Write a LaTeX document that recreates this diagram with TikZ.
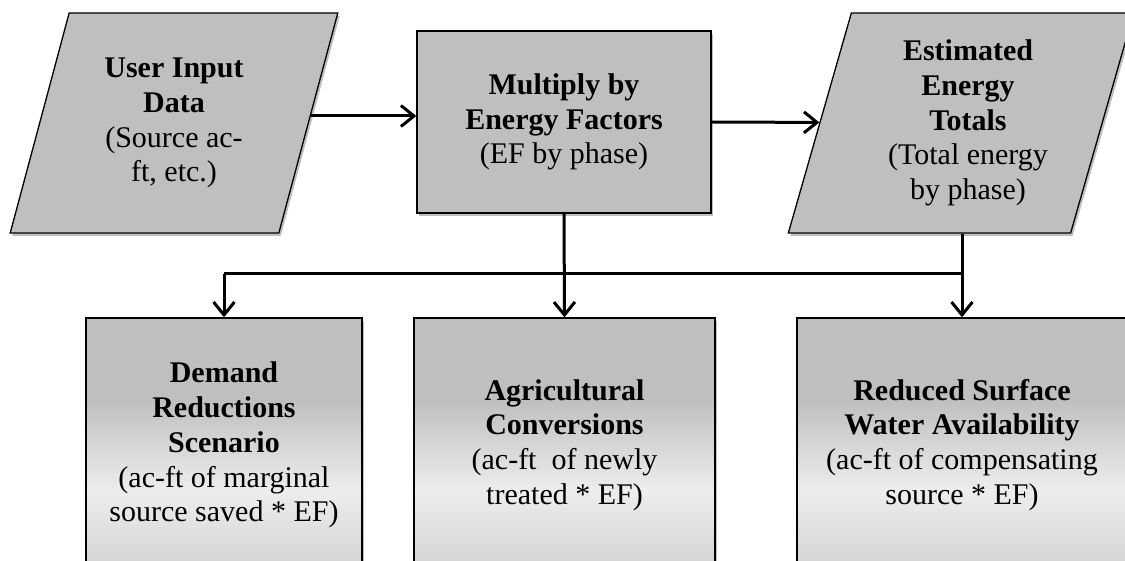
\documentclass[tikz,border=0pt]{standalone}
\usepackage{fontspec}
\setmainfont{Liberation Serif}
\usetikzlibrary{shapes.geometric,arrows.meta,shadows,calc}
\definecolor{boxgray}{HTML}{BFBFBF}
\definecolor{boxlight}{HTML}{EDEDED}
\definecolor{boxlow}{HTML}{D2D2D2}
\pgfdeclareverticalshading{resultshade}{100bp}{%
  color(0bp)=(boxlow); color(25bp)=(boxlow); color(41bp)=(boxlight);
  color(59bp)=(boxgray); color(75bp)=(boxgray); color(100bp)=(boxgray)}
\begin{document}
\begin{tikzpicture}[x=1pt,y=-1pt,
  font=\fontsize{30}{34.8}\selectfont,
  shapebase/.style={draw=black, line width=1.3pt, fill=boxgray, align=center, inner sep=0pt,
    drop shadow={shadow xshift=2pt, shadow yshift=-3pt, opacity=0.25, fill=black}},
  iobox/.style={shapebase, trapezium, trapezium left angle=73.3, trapezium right angle=106.7, trapezium stretches=true},
  procbox/.style={shapebase, rectangle},
  resultbox/.style={procbox, shading=resultshade},
  conn/.style={line width=3pt, -{Straight Barb[length=13pt,width=21pt]}},
  busline/.style={line width=3pt}
]
\useasboundingbox (0,0) rectangle (1125,561);
\clip (0,0) rectangle (1125,561);

\node[iobox, minimum width=328pt, minimum height=220pt] (in) at (174,123)
  {\textbf{User Input}\\\textbf{Data}\\(Source ac-\\ft, etc.)};
\node[procbox, minimum width=294pt, minimum height=182pt] (mult) at (564,122)
  {\textbf{Multiply by}\\\textbf{Energy Factors}\\(EF by phase)};
\node[iobox, minimum width=346pt, minimum height=220pt] (tot) at (961,123)
  {\hspace*{14pt}\textbf{Estimated}\\\hspace*{14pt}\textbf{Energy}\\\hspace*{14pt}\textbf{Totals}\\\hspace*{14pt}(Total energy\\\hspace*{14pt}by phase)};

\node[resultbox, minimum width=276pt, minimum height=254pt] (dem) at (224,445)
  {\textbf{Demand}\\\textbf{Reductions}\\\textbf{Scenario}\\(ac-ft of marginal\\source saved * EF)};
\node[resultbox, minimum width=301pt, minimum height=254pt] (agr) at (564.5,445)
  {\textbf{Agricultural}\\\textbf{Conversions}\\(ac-ft\hspace{0.5em}of newly\\treated * EF)};
\node[resultbox, minimum width=330pt, minimum height=254pt] (red) at (962,445)
  {\textbf{Reduced Surface}\\\textbf{Water Availability}\\(ac-ft of compensating\\source * EF)};

\coordinate (busY) at (0,274);
\coordinate (inOut) at ($(in.east)+(2,-7)$);
\draw[conn] (inOut) -- (inOut -| mult.west);
\draw[conn] (mult.east) -- (tot);
\draw[conn] (mult.south) -- (agr.north);
\draw[conn] (red.north |- tot.south) -- (red.north);
\draw[busline] (red.north |- busY) -- (dem.north |- busY);
\draw[conn] (dem.north |- busY) -- (dem.north);
\end{tikzpicture}
\end{document}
